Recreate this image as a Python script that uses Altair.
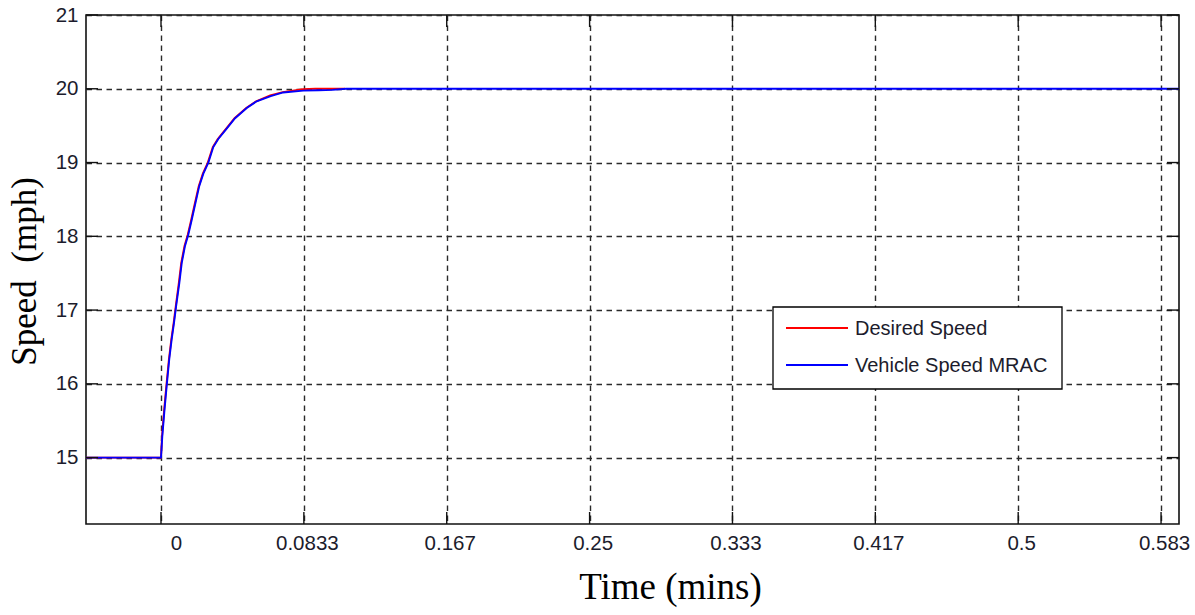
import altair as alt
import pandas as pd

# ---------------- data ----------------
series_names = ["Desired Speed", "Vehicle Speed MRAC"]
series_colors = ["#ff0000", "#0000ff"]

# time in minutes, speed in mph
desired_t = [-0.04375, 0.0, 0.0006, 0.0017, 0.0031, 0.0046, 0.0060, 0.0074, 0.0086,
             0.0104, 0.0118, 0.0137, 0.0156, 0.0176, 0.0195, 0.0220, 0.0244, 0.0273,
             0.0302, 0.0331, 0.0380, 0.0429, 0.0497, 0.0555, 0.0637, 0.0710, 0.0827,
             0.0900, 0.1073]
desired_v = [15.0, 15.0, 15.29, 15.61, 15.97, 16.33, 16.60, 16.83, 17.05,
             17.37, 17.64, 17.87, 18.02, 18.22, 18.42, 18.68, 18.85, 19.00,
             19.21, 19.32, 19.46, 19.60, 19.74, 19.83, 19.91, 19.955, 19.995,
             20.0, 20.0]

vehicle_t = [-0.04375, 0.0, 0.00076, 0.0019, 0.0033, 0.0048, 0.0062, 0.0076, 0.0088,
             0.0107, 0.0121, 0.0140, 0.0159, 0.0179, 0.0198, 0.0223, 0.0247, 0.0276,
             0.0305, 0.0334, 0.0383, 0.0432, 0.0500, 0.0558, 0.0640, 0.0713, 0.0830,
             0.0920, 0.1000, 0.1080, 0.5940]
vehicle_v = [15.0, 15.0, 15.29, 15.61, 15.97, 16.33, 16.60, 16.83, 17.05,
             17.37, 17.64, 17.87, 18.02, 18.22, 18.42, 18.68, 18.85, 19.00,
             19.21, 19.32, 19.46, 19.60, 19.74, 19.83, 19.90, 19.95, 19.975,
             19.98, 19.985, 20.0, 20.0]

x_tick_seconds = [0, 5, 10, 15, 20, 25, 30, 35]
x_ticks = [s / 60 for s in x_tick_seconds]
y_ticks = [15, 16, 17, 18, 19, 20, 21]

x_domain = [-0.04375, 0.5938]
y_domain = [14.1, 21]

# ---------------- layout / style ----------------
W, H = 1093, 509
LABEL_COLOR = "#1c1c2c"
GRID_COLOR = "#2a2a2a"

xscale = alt.Scale(domain=x_domain, nice=False, zero=False)
yscale = alt.Scale(domain=y_domain, nice=False, zero=False)

x_axis = alt.Axis(
    values=x_ticks, format=".3~r", title="Time (mins)",
    grid=True, ticks=False, tickSize=0, domain=False,
    labelFont="Liberation Sans", labelFontSize=20.5, labelColor=LABEL_COLOR,
    labelPadding=9,
    labelOffset={"condition": {"test": "datum.value == 0", "value": 15}, "value": 3},
    titleFont="Liberation Serif", titleFontSize=37, titleFontWeight="normal",
    titleColor="black", titleX=584, titleY=74, titleAlign="center",
    titleBaseline="alphabetic",
)
y_axis = alt.Axis(
    values=y_ticks, format="d", title="Speed\u00a0 (mph)",
    grid=True, ticks=False, tickSize=0, domain=False,
    labelFont="Liberation Sans", labelFontSize=20.5, labelColor=LABEL_COLOR,
    labelPadding=8,
    titleFont="Liberation Serif", titleFontSize=35, titleFontWeight="normal",
    titleColor="black", titleAngle=270, titleX=-51, titleY=256,
    titleAlign="center", titleBaseline="alphabetic",
)

df_d = pd.DataFrame({"t": desired_t, "v": desired_v})
df_v = pd.DataFrame({"t": vehicle_t, "v": vehicle_v})

line_d = alt.Chart(df_d).mark_line(color=series_colors[0], strokeWidth=1.9, clip=True).encode(
    x=alt.X("t:Q", scale=xscale, axis=x_axis),
    y=alt.Y("v:Q", scale=yscale, axis=y_axis),
)
line_v = alt.Chart(df_v).mark_line(color=series_colors[1], strokeWidth=1.9, clip=True).encode(
    x=alt.X("t:Q", scale=xscale, axis=x_axis),
    y=alt.Y("v:Q", scale=yscale, axis=y_axis),
)

# inside ticks (MATLAB style)
xt = pd.DataFrame({"t": x_ticks})
yt = pd.DataFrame({"v": y_ticks})
TL = 12
tick_style = dict(color="#111111", strokeWidth=1.4)
xt_bottom = alt.Chart(xt).mark_rule(**tick_style).encode(
    x=alt.X("t:Q", scale=xscale, axis=x_axis), y=alt.value(H), y2=alt.value(H - TL))
xt_top = alt.Chart(xt).mark_rule(**tick_style).encode(
    x=alt.X("t:Q", scale=xscale, axis=x_axis), y=alt.value(0), y2=alt.value(TL))
yt_left = alt.Chart(yt).mark_rule(**tick_style).encode(
    y=alt.Y("v:Q", scale=yscale, axis=y_axis), x=alt.value(0), x2=alt.value(TL))
yt_right = alt.Chart(yt).mark_rule(**tick_style).encode(
    y=alt.Y("v:Q", scale=yscale, axis=y_axis), x=alt.value(W), x2=alt.value(W - TL))

# legend box (manual, MATLAB style)
one = pd.DataFrame({"a": [0]})
leg_box = alt.Chart(one).mark_rect(fill="white", stroke="black", strokeWidth=1.3).encode(
    x=alt.value(687), x2=alt.value(976), y=alt.value(292), y2=alt.value(374))
leg_layers = [leg_box]
for i, (name, col) in enumerate(zip(series_names, series_colors)):
    yy = 313 + 37 * i
    leg_layers.append(
        alt.Chart(one).mark_rule(color=col, strokeWidth=1.9).encode(
            x=alt.value(700), x2=alt.value(762), y=alt.value(yy)))
    leg_layers.append(
        alt.Chart(pd.DataFrame({"name": [name]})).mark_text(
            align="left", baseline="middle", font="Liberation Sans",
            fontSize=20, color=LABEL_COLOR).encode(
            x=alt.value(769), y=alt.value(yy + 1), text="name:N"))

chart = alt.layer(
    line_d, line_v, xt_bottom, xt_top, yt_left, yt_right, *leg_layers
).properties(
    width=W, height=H,
    padding={"left": 86, "top": 15, "right": 16, "bottom": 91},
    autosize=alt.AutoSizeParams(type="none"),
    background="white",
).configure_view(
    stroke="#111111", strokeWidth=1.6
).configure_axis(
    gridColor=GRID_COLOR, gridDash=[5.5, 4.5], gridWidth=1.4, gridOpacity=1,
)

chart.save("out.html", embed_options={"renderer": "svg", "actions": False})
